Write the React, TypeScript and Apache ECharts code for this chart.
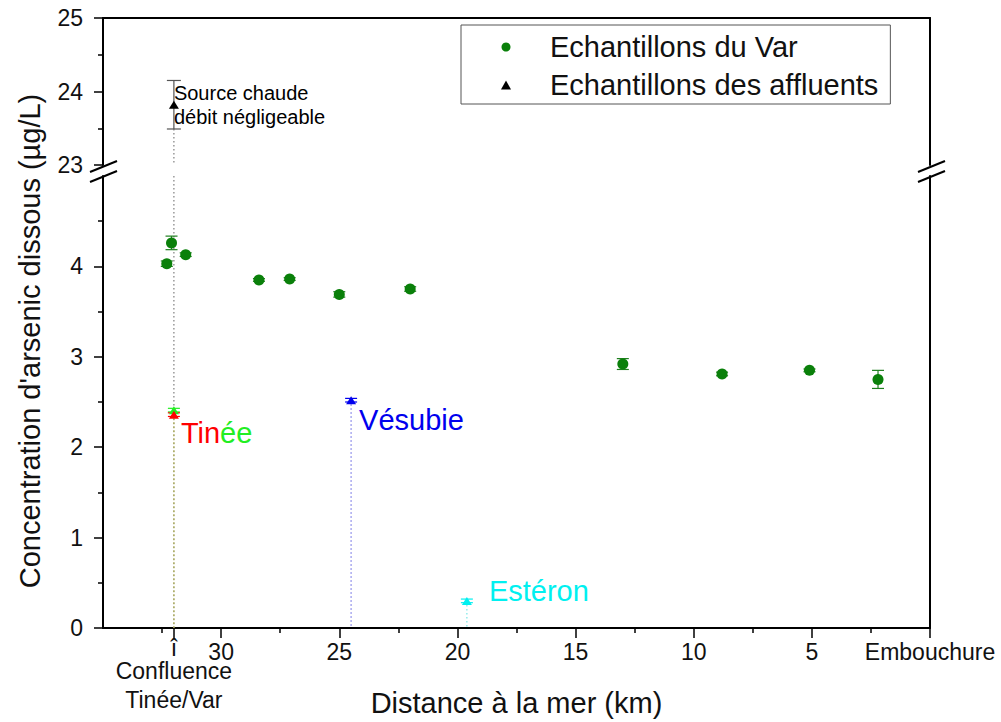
import React, { useEffect, useRef } from 'react';
import * as echarts from 'echarts';

const FONT = 'Arial, "Liberation Sans", Helvetica, sans-serif';

// Var river samples
const varDistanceKm = [32.3, 32.1, 31.5, 28.4, 27.1, 25.0, 22.0, 13.0, 8.8, 5.1, 2.2];
const varArsenic = [4.03, 4.26, 4.13, 3.85, 3.86, 3.69, 3.75, 2.92, 2.81, 2.85, 2.75];
const varError = [0.03, 0.075, 0.02, 0.015, 0.015, 0.03, 0.025, 0.06, 0.02, 0.015, 0.1];

// Tributary samples (lower panel)
const tribNames = ['Tinée', 'Tinée', 'Vésubie', 'Estéron'];
const tribDistanceKm = [32, 32, 24.5, 19.6];
const tribArsenic = [2.41, 2.36, 2.52, 0.3];
const tribError = [0.02, 0.02, 0.02, 0.02];
const tribColors = ['#22ee22', '#ff0000', '#0000ee', '#00f0f0'];
const tribLineColors = ['#a6a65e', '#a6a65e', '#7d7de6', '#80e8e8'];

// Hot spring (upper panel)
const springDistanceKm = 32;
const springArsenic = 23.82;
const springError = 0.33;

// Axes
const xMajorTicks = [0, 5, 10, 15, 20, 25, 30];
const confluenceKm = 32;
const xMax = 35;
const lowerYTicks = [0, 1, 2, 3, 4];
const lowerYMax = 5;
const upperYMin = 23;
const upperYMax = 25;

const errorBarRender = (color: string, capHalf: number, lw: number) => (params: any, api: any) => {
  const x = api.value(0);
  const lo = api.coord([x, api.value(1)]);
  const hi = api.coord([x, api.value(2)]);
  const style = { stroke: color, lineWidth: lw };
  return {
    type: 'group',
    children: [
      { type: 'line', shape: { x1: lo[0], y1: lo[1], x2: hi[0], y2: hi[1] }, style },
      { type: 'line', shape: { x1: lo[0] - capHalf, y1: lo[1], x2: lo[0] + capHalf, y2: lo[1] }, style },
      { type: 'line', shape: { x1: hi[0] - capHalf, y1: hi[1], x2: hi[0] + capHalf, y2: hi[1] }, style },
    ],
  };
};

export default function App() {
  const ref = useRef<HTMLDivElement>(null);
  useEffect(() => {
    const chart = echarts.init(ref.current!, null, { renderer: 'svg' });
    const axisLine = { show: true, onZero: false, lineStyle: { color: '#000', width: 2 } };
    const frameAxis = { axisLine, axisTick: { show: false }, axisLabel: { show: false }, splitLine: { show: false } };

    const tribLabels: any = {
      1: { show: true, position: 'right', offset: [-3, 18], formatter: '{r|Tin}{g|ée}',
        rich: { r: { color: '#ff0000', fontSize: 29, fontFamily: FONT }, g: { color: '#22ee22', fontSize: 29, fontFamily: FONT } } },
      2: { show: true, position: 'right', offset: [-2, 20], formatter: 'Vésubie', color: '#0000ee', fontSize: 29, fontFamily: FONT },
      3: { show: true, position: 'right', offset: [12, -10], formatter: 'Estéron', color: '#00f0f0', fontSize: 29, fontFamily: FONT },
    };

    const option: any = {
      animation: false,
      backgroundColor: '#fff',
      textStyle: { fontFamily: FONT },
      grid: [
        { left: 103, right: 71, top: 18, height: 147, outerBoundsMode: 'none' },
        { left: 103, right: 71, top: 176, height: 452, outerBoundsMode: 'none' },
      ],
      legend: {
        left: 461, top: 25, orient: 'vertical', selectedMode: false,
        padding: [6, 12, 3, 40], itemGap: 6, itemWidth: 10, itemHeight: 9,
        borderColor: '#555', borderWidth: 1, backgroundColor: '#fff',
        textStyle: { fontSize: 29, fontFamily: FONT, color: '#111', lineHeight: 32, padding: [0, 0, 0, 34] },
        data: [
          { name: 'Echantillons du Var', icon: 'circle', itemStyle: { color: '#0a800a', opacity: 1 } },
          { name: 'Echantillons des affluents', icon: 'triangle', itemStyle: { color: '#000', opacity: 1 } },
        ],
      },
      xAxis: [
        { type: 'value', gridIndex: 0, position: 'top', min: 0, max: xMax, inverse: true, ...frameAxis },
        {
          type: 'value', gridIndex: 1, position: 'bottom', min: 0, max: xMax, inverse: true, interval: 5,
          axisLine, splitLine: { show: false },
          axisTick: { show: true, length: 10, customValues: xMajorTicks, lineStyle: { color: '#000', width: 1.5 } },
          minorTick: { show: true, splitNumber: 2, length: 5, lineStyle: { color: '#000', width: 1.5 } },
          axisLabel: {
            show: true, margin: 12, fontSize: 23, color: '#111', fontFamily: FONT, hideOverlap: false,
            customValues: xMajorTicks,
            formatter: (v: number) => (v === 0 ? 'Embouchure' : String(v)),
          },
          name: 'Distance à la mer (km)', nameLocation: 'middle', nameGap: 60,
          nameTextStyle: { fontSize: 29, color: '#111', fontFamily: FONT },
        },
        {
          type: 'value', gridIndex: 1, position: 'bottom', min: 0, max: xMax, inverse: true,
          axisLine: { show: false, onZero: false }, splitLine: { show: false },
          axisTick: { show: true, length: 10, customValues: [confluenceKm], lineStyle: { color: '#000', width: 1.5 } },
          axisLabel: {
            show: true, margin: 12, hideOverlap: false, showMinLabel: true, showMaxLabel: true,
            customValues: [confluenceKm],
            formatter: () => '{a|î}\n{b|Confluence}\n{b|Tinée/Var}',
            rich: {
              a: { fontSize: 23, lineHeight: 16, color: '#111', fontFamily: FONT },
              b: { fontSize: 23, lineHeight: 29, color: '#111', fontFamily: FONT },
            },
          },
        },
      ],
      yAxis: [
        {
          type: 'value', gridIndex: 0, position: 'left', min: upperYMin, max: upperYMax, interval: 1,
          axisLine, splitLine: { show: false },
          axisTick: { show: true, length: 9, lineStyle: { color: '#000', width: 1.5 } },
          minorTick: { show: true, splitNumber: 2, length: 5, lineStyle: { color: '#000', width: 1.5 } },
          axisLabel: { show: true, margin: 20, fontSize: 23, color: '#111', fontFamily: FONT },
        },
        { type: 'value', gridIndex: 0, position: 'right', min: upperYMin, max: upperYMax, ...frameAxis },
        {
          type: 'value', gridIndex: 1, position: 'left', min: 0, max: lowerYMax, interval: 1,
          axisLine, splitLine: { show: false },
          axisTick: { show: true, length: 9, customValues: lowerYTicks, lineStyle: { color: '#000', width: 1.5 } },
          minorTick: { show: true, splitNumber: 2, length: 5, lineStyle: { color: '#000', width: 1.5 } },
          axisLabel: { show: true, margin: 20, fontSize: 23, color: '#111', fontFamily: FONT, customValues: lowerYTicks },
        },
        { type: 'value', gridIndex: 1, position: 'right', min: 0, max: lowerYMax, ...frameAxis },
      ],
      graphic: [
        {
          type: 'text', x: 30, y: 341, rotation: Math.PI / 2,
          style: { text: "Concentration d'arsenic dissous (µg/L)", fontSize: 29, fontFamily: FONT, fill: '#111', textAlign: 'center', textVerticalAlign: 'middle' },
        },
        { type: 'line', shape: { x1: 90, y1: 172, x2: 117, y2: 161 }, style: { stroke: '#000', lineWidth: 2 } },
        { type: 'line', shape: { x1: 90, y1: 182, x2: 117, y2: 171 }, style: { stroke: '#000', lineWidth: 2 } },
        { type: 'line', shape: { x1: 918, y1: 172, x2: 945, y2: 161 }, style: { stroke: '#000', lineWidth: 2 } },
        { type: 'line', shape: { x1: 918, y1: 182, x2: 945, y2: 171 }, style: { stroke: '#000', lineWidth: 2 } },
      ],
      series: [
        // dotted drop lines of tributaries
        {
          type: 'custom', xAxisIndex: 1, yAxisIndex: 2, silent: true, z: 1,
          data: tribDistanceKm.map((d, i) => [d, tribArsenic[i], i]),
          renderItem: (params: any, api: any) => {
            const x = api.value(0);
            const p1 = api.coord([x, api.value(1)]);
            const p0 = api.coord([x, 0]);
            return { type: 'line', shape: { x1: p1[0], y1: p1[1], x2: p0[0], y2: p0[1] },
              style: { stroke: tribLineColors[api.value(2)], lineWidth: 1.3, lineDash: [1.5, 2.5] } };
          },
        },
        // hot spring connector, lower panel
        {
          type: 'line', xAxisIndex: 1, yAxisIndex: 2, silent: true, symbol: 'none', z: 1,
          data: [[springDistanceKm, lowerYMax], [springDistanceKm, tribArsenic[0]]],
          lineStyle: { color: '#888', width: 1.3, type: [1.5, 2.5] },
        },
        // hot spring connector, upper panel
        {
          type: 'line', xAxisIndex: 0, yAxisIndex: 0, silent: true, symbol: 'none', z: 1,
          data: [[springDistanceKm, springArsenic - springError], [springDistanceKm, upperYMin]],
          lineStyle: { color: '#888', width: 1.3, type: [1.5, 2.5] },
        },
        // Var error bars
        {
          type: 'custom', xAxisIndex: 1, yAxisIndex: 2, silent: true, z: 2,
          data: varDistanceKm.map((d, i) => [d, varArsenic[i] - varError[i], varArsenic[i] + varError[i]]),
          encode: { x: 0, y: [1, 2] },
          renderItem: errorBarRender('#1f7f1f', 6, 1.2),
        },
        {
          name: 'Echantillons du Var', type: 'scatter', xAxisIndex: 1, yAxisIndex: 2, z: 3,
          symbol: 'circle', symbolSize: 11,
          itemStyle: { color: '#0a800a', opacity: 1 },
          data: varDistanceKm.map((d, i) => [d, varArsenic[i]]),
        },
        // tributary error bars
        {
          type: 'custom', xAxisIndex: 1, yAxisIndex: 2, silent: true, z: 2,
          data: tribDistanceKm.map((d, i) => [d, tribArsenic[i] - tribError[i], tribArsenic[i] + tribError[i], i]),
          encode: { x: 0, y: [1, 2] },
          renderItem: (params: any, api: any) => errorBarRender(tribColors[api.value(3)], 6, 1.2)(params, api),
        },
        {
          name: 'Echantillons des affluents', type: 'scatter', xAxisIndex: 1, yAxisIndex: 2, z: 4,
          symbol: 'triangle', symbolSize: [10, 8],
          itemStyle: { color: '#000', opacity: 1 },
          data: tribDistanceKm.map((d, i) => ({
            name: tribNames[i],
            value: [d, tribArsenic[i]],
            itemStyle: { color: tribColors[i], opacity: 1 },
            label: tribLabels[i] || { show: false },
          })),
        },
        // hot spring error bar
        {
          type: 'custom', xAxisIndex: 0, yAxisIndex: 0, silent: true, z: 2,
          data: [[springDistanceKm, springArsenic - springError, springArsenic + springError]],
          encode: { x: 0, y: [1, 2] },
          renderItem: errorBarRender('#555', 7, 1.2),
        },
        {
          name: 'Echantillons des affluents', type: 'scatter', xAxisIndex: 0, yAxisIndex: 0, z: 4,
          symbol: 'triangle', symbolSize: [10, 8],
          itemStyle: { color: '#000', opacity: 1 },
          data: [{
            name: 'Source chaude',
            value: [springDistanceKm, springArsenic],
            label: {
              show: true, position: 'right', distance: -5, offset: [0, 0],
              formatter: 'Source chaude\ndébit négligeable',
              fontSize: 20, lineHeight: 24, color: '#000', fontFamily: FONT,
            },
          }],
        },
      ],
    };
    chart.setOption(option);
    return () => chart.dispose();
  }, []);
  return <div ref={ref} style={{ position: 'fixed', left: 0, top: 0, width: 1001, height: 722, background: '#fff' }} />;
}
